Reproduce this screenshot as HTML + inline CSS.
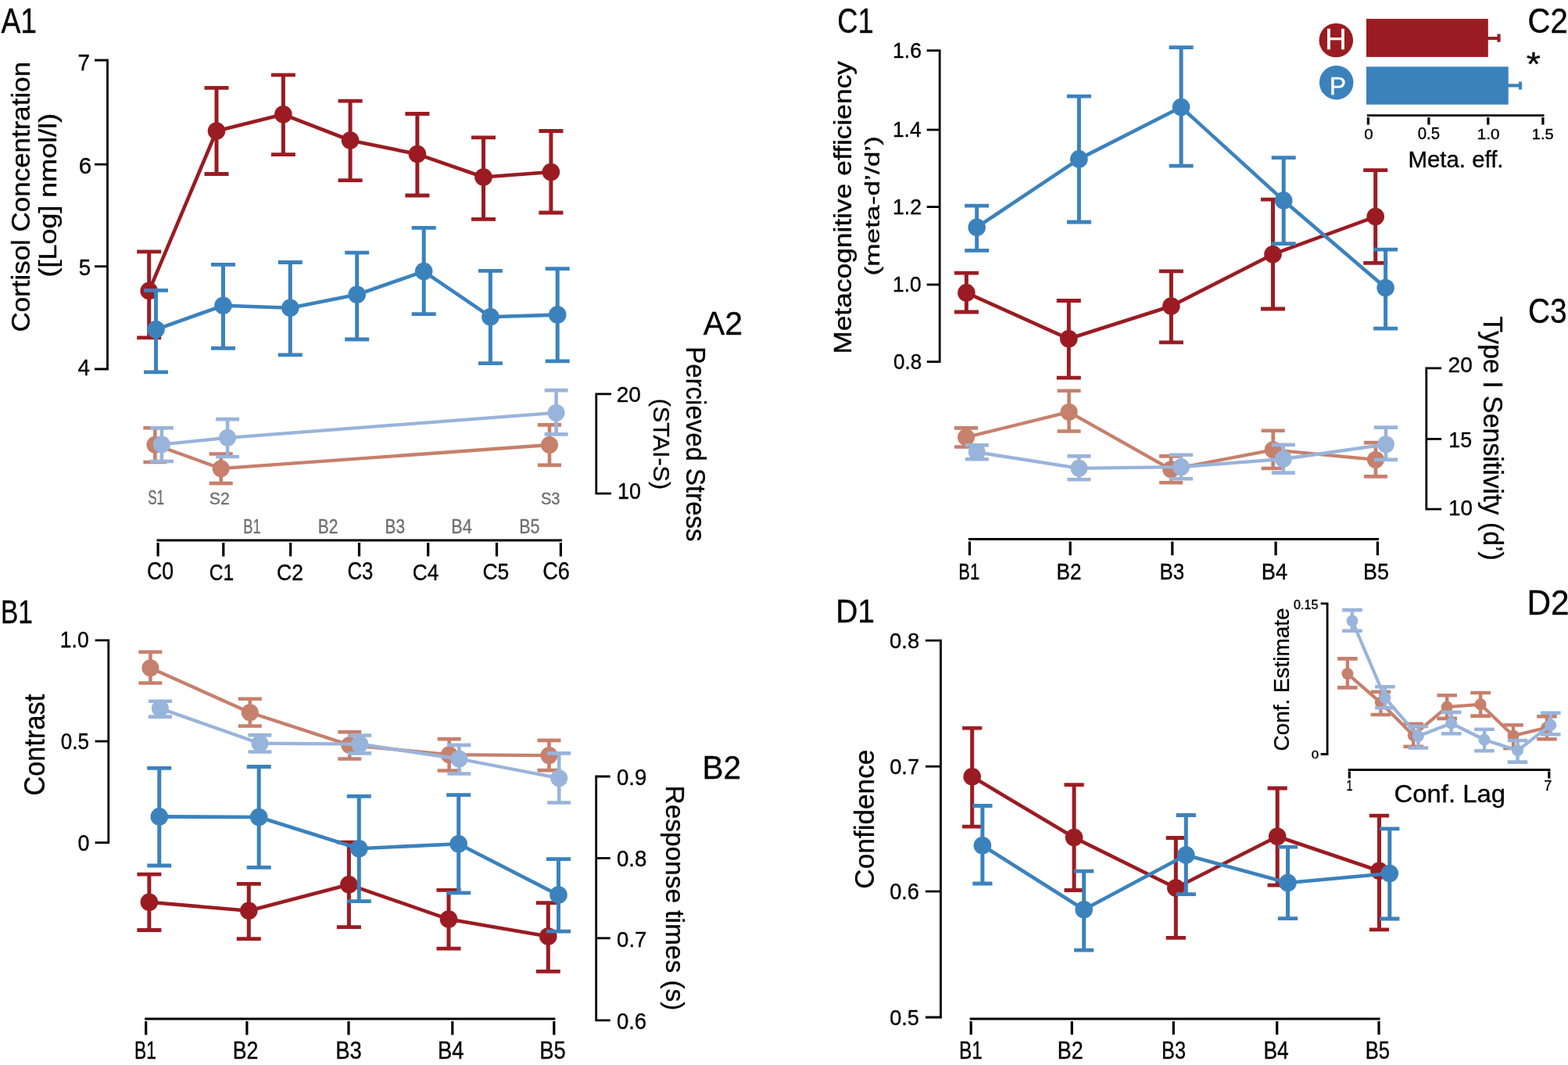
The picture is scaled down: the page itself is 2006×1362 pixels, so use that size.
<!DOCTYPE html>
<html><head><meta charset="utf-8"><title>Figure</title>
<style>html,body{margin:0;padding:0;background:#fff;}svg{display:block;}</style></head><body>
<svg width="2006" height="1362" viewBox="0 0 2006 1362" font-family='"Liberation Sans", Arial, sans-serif'>
<rect width="2006" height="1362" fill="#fff"/>
<g fill="none" stroke="#000" stroke-width="2.8" stroke-linejoin="miter" stroke-linecap="butt">
<path d="M121,77 H137.5 V472 H121"/>
<path d="M121,210.2 H137.5"/>
<path d="M121,340.7 H137.5"/>
<path d="M782,503.9 H762.8 V631.2 H782"/>
<path d="M121.6,818.8 H138.8 V1077.6 H121.6"/>
<path d="M121.6,948 H138.8"/>
<path d="M780.7,993 H762.7 V1304.8 H780.7"/>
<path d="M762.7,1097.5 H780.7"/>
<path d="M762.7,1199.8 H780.7"/>
<path d="M1185.7,64.7 H1202.2 V462.7 H1185.7"/>
<path d="M1185.7,166 H1202.2"/>
<path d="M1185.7,264.6 H1202.2"/>
<path d="M1185.7,364 H1202.2"/>
<path d="M1844.1,470.8 H1824.8 V651.2 H1844.1"/>
<path d="M1824.8,561.4 H1844.1"/>
<path d="M1184,819.1 H1203.5 V1301 H1184"/>
<path d="M1184,980.2 H1203.5"/>
<path d="M1184,1140 H1203.5"/>
<path d="M1689.7,771.9 H1698.1 V964.5 H1689.7"/>
<path d="M200.50,691 H719.00"/>
<path d="M185.10,1303 H710.40"/>
<path d="M1238.90,689.5 H1764.00"/>
<path d="M1748.80,147.7 H1975.50"/>
<path d="M1240.60,1303 H1765.60"/>
<path d="M1724.70,984.5 H1983.40"/>
</g>
<g fill="none" stroke="#000" stroke-width="3.2">
<path d="M202.1,694.00 V711.5 M285.8,694.00 V711.5 M371.7,694.00 V711.5 M459.5,694.00 V711.5 M547.7,694.00 V711.5 M635.5,694.00 V711.5 M717.4,694.00 V711.5"/>
<path d="M186.7,1306.00 V1323.6 M315.9,1306.00 V1323.6 M446,1306.00 V1323.6 M578.8,1306.00 V1323.6 M708.8,1306.00 V1323.6"/>
<path d="M1240.5,692.50 V710.2 M1369.2,692.50 V710.2 M1499.8,692.50 V710.2 M1632.1,692.50 V710.2 M1762.4,692.50 V710.2"/>
<path d="M1750.4,149.90 V159.5 M1827.9,149.90 V159.5 M1903.8,149.90 V159.5 M1973.9,149.90 V159.5"/>
<path d="M1242.2,1306.00 V1323.3 M1371.3,1306.00 V1323.3 M1501.3,1306.00 V1323.3 M1633.7,1306.00 V1323.3 M1764,1306.00 V1323.3"/>
<path d="M1726.3,986.60 V995.5 M1981.8,986.60 V995.5"/>
</g>
<g>
<rect x="1748" y="24.1" width="155.8" height="48.8" fill="#9a1c22"/>
<path d="M1903,49 H1917.5 M1917.5,43.6 V53.8" stroke="#9a1c22" stroke-width="4.2" fill="none"/>
<rect x="1748" y="85.3" width="181.7" height="48.4" fill="#3b82bd"/>
<path d="M1929,109.4 H1945 M1945,104.5 V114.5" stroke="#3b82bd" stroke-width="4.2" fill="none"/>
<circle cx="1709.3" cy="51.5" r="21.8" fill="#9a1c22"/>
<circle cx="1709.7" cy="105.6" r="21.8" fill="#3b82bd"/>
</g>
<path d="M190.7,372.1 L277,167.5 L362.4,146.3 L448.1,179.5 L533.9,197.1 L618.5,226.5 L704.9,220" fill="none" stroke="#9a1c22" stroke-width="4.6" stroke-linejoin="round"/>
<path d="M190.7,321.9 V431.8 M277,112.4 V222.5 M362.4,95.9 V197.7 M448.1,129.1 V230.6 M533.9,145.5 V250 M618.5,175.8 V280.3 M704.9,167.5 V272" stroke="#9a1c22" stroke-width="5.0"/>
<path d="M175.2,321.9 H206.2 M175.2,431.8 H206.2 M261.5,112.4 H292.5 M261.5,222.5 H292.5 M346.9,95.9 H377.9 M346.9,197.7 H377.9 M432.6,129.1 H463.6 M432.6,230.6 H463.6 M518.4,145.5 H549.4 M518.4,250 H549.4 M603,175.8 H634 M603,280.3 H634 M689.4,167.5 H720.4 M689.4,272 H720.4" stroke="#9a1c22" stroke-width="4.8"/>
<circle cx="190.7" cy="372.1" r="11.3" fill="#9a1c22"/>
<circle cx="277" cy="167.5" r="11.3" fill="#9a1c22"/>
<circle cx="362.4" cy="146.3" r="11.3" fill="#9a1c22"/>
<circle cx="448.1" cy="179.5" r="11.3" fill="#9a1c22"/>
<circle cx="533.9" cy="197.1" r="11.3" fill="#9a1c22"/>
<circle cx="618.5" cy="226.5" r="11.3" fill="#9a1c22"/>
<circle cx="704.9" cy="220" r="11.3" fill="#9a1c22"/>
<path d="M199.5,421.3 L285.5,390.8 L371.3,393.8 L456.7,376.8 L542.2,347.1 L627.4,405.2 L713.2,402.6" fill="none" stroke="#3b82bd" stroke-width="4.6" stroke-linejoin="round"/>
<path d="M199.5,371.3 V475.8 M285.5,338.3 V445.4 M371.3,335.5 V453.8 M456.7,323.2 V434 M542.2,291.3 V401.7 M627.4,346.4 V464.6 M713.2,343.6 V461.9" stroke="#3b82bd" stroke-width="5.0"/>
<path d="M184,371.3 H215 M184,475.8 H215 M270,338.3 H301 M270,445.4 H301 M355.8,335.5 H386.8 M355.8,453.8 H386.8 M441.2,323.2 H472.2 M441.2,434 H472.2 M526.7,291.3 H557.7 M526.7,401.7 H557.7 M611.9,346.4 H642.9 M611.9,464.6 H642.9 M697.7,343.6 H728.7 M697.7,461.9 H728.7" stroke="#3b82bd" stroke-width="4.8"/>
<circle cx="199.5" cy="421.3" r="11.3" fill="#3b82bd"/>
<circle cx="285.5" cy="390.8" r="11.3" fill="#3b82bd"/>
<circle cx="371.3" cy="393.8" r="11.3" fill="#3b82bd"/>
<circle cx="456.7" cy="376.8" r="11.3" fill="#3b82bd"/>
<circle cx="542.2" cy="347.1" r="11.3" fill="#3b82bd"/>
<circle cx="627.4" cy="405.2" r="11.3" fill="#3b82bd"/>
<circle cx="713.2" cy="402.6" r="11.3" fill="#3b82bd"/>
<path d="M198.4,568.8 L282.7,599.2 L703,569" fill="none" stroke="#c6806c" stroke-width="4.3" stroke-linejoin="round"/>
<path d="M198.4,547.2 V591 M282.7,580.5 V618.1 M703,543.4 V594.9" stroke="#c6806c" stroke-width="4.6"/>
<path d="M183.4,547.2 H213.4 M183.4,591 H213.4 M267.7,580.5 H297.7 M267.7,618.1 H297.7 M688,543.4 H718 M688,594.9 H718" stroke="#c6806c" stroke-width="4.6"/>
<circle cx="198.4" cy="568.8" r="11.0" fill="#c6806c"/>
<circle cx="282.7" cy="599.2" r="11.0" fill="#c6806c"/>
<circle cx="703" cy="569" r="11.0" fill="#c6806c"/>
<path d="M206.9,568.4 L291.1,559.8 L711.6,527.9" fill="none" stroke="#99b4da" stroke-width="4.3" stroke-linejoin="round"/>
<path d="M206.9,547.2 V590 M291.1,536.1 V584 M711.6,499.1 V555.4" stroke="#99b4da" stroke-width="4.6"/>
<path d="M191.9,547.2 H221.9 M191.9,590 H221.9 M276.1,536.1 H306.1 M276.1,584 H306.1 M696.6,499.1 H726.6 M696.6,555.4 H726.6" stroke="#99b4da" stroke-width="4.6"/>
<circle cx="206.9" cy="568.4" r="11.0" fill="#99b4da"/>
<circle cx="291.1" cy="559.8" r="11.0" fill="#99b4da"/>
<circle cx="711.6" cy="527.9" r="11.0" fill="#99b4da"/>
<path d="M190.9,1153.7 L318.3,1164.8 L446.4,1131.3 L574,1175.6 L701.3,1197.6" fill="none" stroke="#9a1c22" stroke-width="4.6" stroke-linejoin="round"/>
<path d="M190.9,1118.1 V1189.5 M318.3,1130.4 V1200.6 M446.4,1077.2 V1185.6 M574,1138.4 V1213.2 M701.3,1154.6 V1242.3" stroke="#9a1c22" stroke-width="5.0"/>
<path d="M175.4,1118.1 H206.4 M175.4,1189.5 H206.4 M302.8,1130.4 H333.8 M302.8,1200.6 H333.8 M430.9,1077.2 H461.9 M430.9,1185.6 H461.9 M558.5,1138.4 H589.5 M558.5,1213.2 H589.5 M685.8,1154.6 H716.8 M685.8,1242.3 H716.8" stroke="#9a1c22" stroke-width="4.8"/>
<circle cx="190.9" cy="1153.7" r="11.3" fill="#9a1c22"/>
<circle cx="318.3" cy="1164.8" r="11.3" fill="#9a1c22"/>
<circle cx="446.4" cy="1131.3" r="11.3" fill="#9a1c22"/>
<circle cx="574" cy="1175.6" r="11.3" fill="#9a1c22"/>
<circle cx="701.3" cy="1197.6" r="11.3" fill="#9a1c22"/>
<path d="M203.8,1044.4 L331.2,1045 L459.3,1085.2 L586.7,1079.2 L714.5,1144.6" fill="none" stroke="#3b82bd" stroke-width="4.6" stroke-linejoin="round"/>
<path d="M203.8,982.4 V1107 M331.2,980.5 V1109.3 M459.3,1018.4 V1152.6 M586.7,1016.7 V1141.9 M714.5,1098.6 V1191.2" stroke="#3b82bd" stroke-width="5.0"/>
<path d="M188.3,982.4 H219.3 M188.3,1107 H219.3 M315.7,980.5 H346.7 M315.7,1109.3 H346.7 M443.8,1018.4 H474.8 M443.8,1152.6 H474.8 M571.2,1016.7 H602.2 M571.2,1141.9 H602.2 M699,1098.6 H730 M699,1191.2 H730" stroke="#3b82bd" stroke-width="4.8"/>
<circle cx="203.8" cy="1044.4" r="11.3" fill="#3b82bd"/>
<circle cx="331.2" cy="1045" r="11.3" fill="#3b82bd"/>
<circle cx="459.3" cy="1085.2" r="11.3" fill="#3b82bd"/>
<circle cx="586.7" cy="1079.2" r="11.3" fill="#3b82bd"/>
<circle cx="714.5" cy="1144.6" r="11.3" fill="#3b82bd"/>
<path d="M192.4,854.2 L319.8,911.3 L447.3,952.9 L574.7,965.2 L702.5,966.1" fill="none" stroke="#c6806c" stroke-width="4.3" stroke-linejoin="round"/>
<path d="M192.4,833.8 V873.5 M319.8,893.8 V928.5 M447.3,936.1 V970.5 M574.7,945.1 V985.5 M702.5,946.9 V985.1" stroke="#c6806c" stroke-width="4.6"/>
<path d="M177.4,833.8 H207.4 M177.4,873.5 H207.4 M304.8,893.8 H334.8 M304.8,928.5 H334.8 M432.3,936.1 H462.3 M432.3,970.5 H462.3 M559.7,945.1 H589.7 M559.7,985.5 H589.7 M687.5,946.9 H717.5 M687.5,985.1 H717.5" stroke="#c6806c" stroke-width="4.6"/>
<circle cx="192.4" cy="854.2" r="11.0" fill="#c6806c"/>
<circle cx="319.8" cy="911.3" r="11.0" fill="#c6806c"/>
<circle cx="447.3" cy="952.9" r="11.0" fill="#c6806c"/>
<circle cx="574.7" cy="965.2" r="11.0" fill="#c6806c"/>
<circle cx="702.5" cy="966.1" r="11.0" fill="#c6806c"/>
<path d="M204.9,906 L332.5,950.7 L460.2,951.6 L587.4,970.5 L715.2,995.2" fill="none" stroke="#99b4da" stroke-width="4.3" stroke-linejoin="round"/>
<path d="M204.9,896.8 V916.6 M332.5,940.1 V961.5 M460.2,940.5 V963.4 M587.4,952.9 V989.5 M715.2,963.4 V1026.5" stroke="#99b4da" stroke-width="4.6"/>
<path d="M189.9,896.8 H219.9 M189.9,916.6 H219.9 M317.5,940.1 H347.5 M317.5,961.5 H347.5 M445.2,940.5 H475.2 M445.2,963.4 H475.2 M572.4,952.9 H602.4 M572.4,989.5 H602.4 M700.2,963.4 H730.2 M700.2,1026.5 H730.2" stroke="#99b4da" stroke-width="4.6"/>
<circle cx="204.9" cy="906" r="11.0" fill="#99b4da"/>
<circle cx="332.5" cy="950.7" r="11.0" fill="#99b4da"/>
<circle cx="460.2" cy="951.6" r="11.0" fill="#99b4da"/>
<circle cx="587.4" cy="970.5" r="11.0" fill="#99b4da"/>
<circle cx="715.2" cy="995.2" r="11.0" fill="#99b4da"/>
<path d="M1236.4,374.4 L1367.3,433.3 L1498.4,391.5 L1628.5,325.2 L1759.7,277.1" fill="none" stroke="#9a1c22" stroke-width="4.6" stroke-linejoin="round"/>
<path d="M1236.4,349.2 V399 M1367.3,384.5 V483.2 M1498.4,346.9 V437.8 M1628.5,255.2 V395 M1759.7,217.6 V336.3" stroke="#9a1c22" stroke-width="5.0"/>
<path d="M1220.9,349.2 H1251.9 M1220.9,399 H1251.9 M1351.8,384.5 H1382.8 M1351.8,483.2 H1382.8 M1482.9,346.9 H1513.9 M1482.9,437.8 H1513.9 M1613,255.2 H1644 M1613,395 H1644 M1744.2,217.6 H1775.2 M1744.2,336.3 H1775.2" stroke="#9a1c22" stroke-width="4.8"/>
<circle cx="1236.4" cy="374.4" r="11.3" fill="#9a1c22"/>
<circle cx="1367.3" cy="433.3" r="11.3" fill="#9a1c22"/>
<circle cx="1498.4" cy="391.5" r="11.3" fill="#9a1c22"/>
<circle cx="1628.5" cy="325.2" r="11.3" fill="#9a1c22"/>
<circle cx="1759.7" cy="277.1" r="11.3" fill="#9a1c22"/>
<path d="M1249.7,290.7 L1380.4,203.4 L1511.1,137 L1642.2,256.4 L1772.6,368" fill="none" stroke="#3b82bd" stroke-width="4.6" stroke-linejoin="round"/>
<path d="M1249.7,263.2 V320.3 M1380.4,123.2 V284 M1511.1,60.6 V212.2 M1642.2,201.6 V311.6 M1772.6,319.1 V420.2" stroke="#3b82bd" stroke-width="5.0"/>
<path d="M1234.2,263.2 H1265.2 M1234.2,320.3 H1265.2 M1364.9,123.2 H1395.9 M1364.9,284 H1395.9 M1495.6,60.6 H1526.6 M1495.6,212.2 H1526.6 M1626.7,201.6 H1657.7 M1626.7,311.6 H1657.7 M1757.1,319.1 H1788.1 M1757.1,420.2 H1788.1" stroke="#3b82bd" stroke-width="4.8"/>
<circle cx="1249.7" cy="290.7" r="11.3" fill="#3b82bd"/>
<circle cx="1380.4" cy="203.4" r="11.3" fill="#3b82bd"/>
<circle cx="1511.1" cy="137" r="11.3" fill="#3b82bd"/>
<circle cx="1642.2" cy="256.4" r="11.3" fill="#3b82bd"/>
<circle cx="1772.6" cy="368" r="11.3" fill="#3b82bd"/>
<path d="M1236,559.2 L1367.6,526.9 L1498.1,600.3 L1628.7,575.3 L1759.9,587.9" fill="none" stroke="#c6806c" stroke-width="4.3" stroke-linejoin="round"/>
<path d="M1236,547.4 V571.5 M1367.6,499.7 V551.5 M1498.1,583.4 V617.3 M1628.7,550.8 V599 M1759.9,566.1 V609.4" stroke="#c6806c" stroke-width="4.6"/>
<path d="M1221,547.4 H1251 M1221,571.5 H1251 M1352.6,499.7 H1382.6 M1352.6,551.5 H1382.6 M1483.1,583.4 H1513.1 M1483.1,617.3 H1513.1 M1613.7,550.8 H1643.7 M1613.7,599 H1643.7 M1744.9,566.1 H1774.9 M1744.9,609.4 H1774.9" stroke="#c6806c" stroke-width="4.6"/>
<circle cx="1236" cy="559.2" r="11.0" fill="#c6806c"/>
<circle cx="1367.6" cy="526.9" r="11.0" fill="#c6806c"/>
<circle cx="1498.1" cy="600.3" r="11.0" fill="#c6806c"/>
<circle cx="1628.7" cy="575.3" r="11.0" fill="#c6806c"/>
<circle cx="1759.9" cy="587.9" r="11.0" fill="#c6806c"/>
<path d="M1249.8,578.3 L1380.5,598.8 L1511.1,597.2 L1641.8,587 L1773,568.3" fill="none" stroke="#99b4da" stroke-width="4.3" stroke-linejoin="round"/>
<path d="M1249.8,569.4 V587.3 M1380.5,583.4 V613.2 M1511.1,581.8 V612.2 M1641.8,568.9 V604.6 M1773,546.6 V587.9" stroke="#99b4da" stroke-width="4.6"/>
<path d="M1234.8,569.4 H1264.8 M1234.8,587.3 H1264.8 M1365.5,583.4 H1395.5 M1365.5,613.2 H1395.5 M1496.1,581.8 H1526.1 M1496.1,612.2 H1526.1 M1626.8,568.9 H1656.8 M1626.8,604.6 H1656.8 M1758,546.6 H1788 M1758,587.9 H1788" stroke="#99b4da" stroke-width="4.6"/>
<circle cx="1249.8" cy="578.3" r="11.0" fill="#99b4da"/>
<circle cx="1380.5" cy="598.8" r="11.0" fill="#99b4da"/>
<circle cx="1511.1" cy="597.2" r="11.0" fill="#99b4da"/>
<circle cx="1641.8" cy="587" r="11.0" fill="#99b4da"/>
<circle cx="1773" cy="568.3" r="11.0" fill="#99b4da"/>
<path d="M1243.7,993.3 L1374.1,1071.1 L1504.3,1135.5 L1634.2,1069.7 L1764.5,1113.8" fill="none" stroke="#9a1c22" stroke-width="4.6" stroke-linejoin="round"/>
<path d="M1243.7,931.2 V1057.2 M1374.1,1003.7 V1138.5 M1504.3,1071.5 V1199.4 M1634.2,1008 V1132.1 M1764.5,1043.1 V1188.8" stroke="#9a1c22" stroke-width="5.0"/>
<path d="M1231.1,931.2 H1256.3 M1231.1,1057.2 H1256.3 M1361.5,1003.7 H1386.7 M1361.5,1138.5 H1386.7 M1491.7,1071.5 H1516.9 M1491.7,1199.4 H1516.9 M1621.6,1008 H1646.8 M1621.6,1132.1 H1646.8 M1751.9,1043.1 H1777.1 M1751.9,1188.8 H1777.1" stroke="#9a1c22" stroke-width="4.8"/>
<circle cx="1243.7" cy="993.3" r="11.3" fill="#9a1c22"/>
<circle cx="1374.1" cy="1071.1" r="11.3" fill="#9a1c22"/>
<circle cx="1504.3" cy="1135.5" r="11.3" fill="#9a1c22"/>
<circle cx="1634.2" cy="1069.7" r="11.3" fill="#9a1c22"/>
<circle cx="1764.5" cy="1113.8" r="11.3" fill="#9a1c22"/>
<path d="M1256.9,1081.2 L1386.7,1163.3 L1517.3,1093.5 L1647.5,1129 L1777.8,1117" fill="none" stroke="#3b82bd" stroke-width="4.6" stroke-linejoin="round"/>
<path d="M1256.9,1030.5 V1130 M1386.7,1114.1 V1215.2 M1517.3,1042.5 V1143.7 M1647.5,1083.2 V1174.7 M1777.8,1059.8 V1175" stroke="#3b82bd" stroke-width="5.0"/>
<path d="M1244.3,1030.5 H1269.5 M1244.3,1130 H1269.5 M1374.1,1114.1 H1399.3 M1374.1,1215.2 H1399.3 M1504.7,1042.5 H1529.9 M1504.7,1143.7 H1529.9 M1634.9,1083.2 H1660.1 M1634.9,1174.7 H1660.1 M1765.2,1059.8 H1790.4 M1765.2,1175 H1790.4" stroke="#3b82bd" stroke-width="4.8"/>
<circle cx="1256.9" cy="1081.2" r="11.3" fill="#3b82bd"/>
<circle cx="1386.7" cy="1163.3" r="11.3" fill="#3b82bd"/>
<circle cx="1517.3" cy="1093.5" r="11.3" fill="#3b82bd"/>
<circle cx="1647.5" cy="1129" r="11.3" fill="#3b82bd"/>
<circle cx="1777.8" cy="1117" r="11.3" fill="#3b82bd"/>
<path d="M1723.9,861.6 L1766.4,898.6 L1808.2,940.4 L1851.2,904.1 L1894.1,900.8 L1936,940.9 L1978.9,930.5" fill="none" stroke="#c6806c" stroke-width="4.2" stroke-linejoin="round"/>
<path d="M1723.9,842.4 V879.4 M1766.4,884.7 V914 M1808.2,925.7 V954.8 M1851.2,889.3 V918.9 M1894.1,886 V915.6 M1936,927.2 V957 M1978.9,916.2 V945.3" stroke="#c6806c" stroke-width="4.4"/>
<path d="M1711.1,842.4 H1736.7 M1711.1,879.4 H1736.7 M1753.6,884.7 H1779.2 M1753.6,914 H1779.2 M1795.4,925.7 H1821 M1795.4,954.8 H1821 M1838.4,889.3 H1864 M1838.4,918.9 H1864 M1881.3,886 H1906.9 M1881.3,915.6 H1906.9 M1923.2,927.2 H1948.8 M1923.2,957 H1948.8 M1966.1,916.2 H1991.7 M1966.1,945.3 H1991.7" stroke="#c6806c" stroke-width="4.6"/>
<circle cx="1723.9" cy="861.6" r="7.5" fill="#c6806c"/>
<circle cx="1766.4" cy="898.6" r="7.5" fill="#c6806c"/>
<circle cx="1808.2" cy="940.4" r="7.5" fill="#c6806c"/>
<circle cx="1851.2" cy="904.1" r="7.5" fill="#c6806c"/>
<circle cx="1894.1" cy="900.8" r="7.5" fill="#c6806c"/>
<circle cx="1936" cy="940.9" r="7.5" fill="#c6806c"/>
<circle cx="1978.9" cy="930.5" r="7.5" fill="#c6806c"/>
<path d="M1730,794 L1771.9,892.4 L1814.4,941.5 L1856.7,925 L1899,946 L1941.5,959.8 L1983.8,927.2" fill="none" stroke="#99b4da" stroke-width="4.2" stroke-linejoin="round"/>
<path d="M1730,780.1 V806.7 M1771.9,878.3 V905.2 M1814.4,929 V956.5 M1856.7,910.9 V938.2 M1899,932.7 V960.3 M1941.5,947 V974.6 M1983.8,911.8 V939.3" stroke="#99b4da" stroke-width="4.4"/>
<path d="M1717.2,780.1 H1742.8 M1717.2,806.7 H1742.8 M1759.1,878.3 H1784.7 M1759.1,905.2 H1784.7 M1801.6,929 H1827.2 M1801.6,956.5 H1827.2 M1843.9,910.9 H1869.5 M1843.9,938.2 H1869.5 M1886.2,932.7 H1911.8 M1886.2,960.3 H1911.8 M1928.7,947 H1954.3 M1928.7,974.6 H1954.3 M1971,911.8 H1996.6 M1971,939.3 H1996.6" stroke="#99b4da" stroke-width="4.6"/>
<circle cx="1730" cy="794" r="7.5" fill="#99b4da"/>
<circle cx="1771.9" cy="892.4" r="7.5" fill="#99b4da"/>
<circle cx="1814.4" cy="941.5" r="7.5" fill="#99b4da"/>
<circle cx="1856.7" cy="925" r="7.5" fill="#99b4da"/>
<circle cx="1899" cy="946" r="7.5" fill="#99b4da"/>
<circle cx="1941.5" cy="959.8" r="7.5" fill="#99b4da"/>
<circle cx="1983.8" cy="927.2" r="7.5" fill="#99b4da"/>
<text x="1.42" y="42.32" font-size="44.29" fill="#000" stroke="#000" stroke-width="0.35" textLength="45.69" lengthAdjust="spacingAndGlyphs">A1</text>
<text x="899.84" y="427.83" font-size="42.52" fill="#000" stroke="#000" stroke-width="0.35" textLength="50.25" lengthAdjust="spacingAndGlyphs">A2</text>
<text x="0.97" y="797.15" font-size="42.02" fill="#000" stroke="#000" stroke-width="0.35" textLength="41.01" lengthAdjust="spacingAndGlyphs">B1</text>
<text x="898.52" y="995.67" font-size="42.60" fill="#000" stroke="#000" stroke-width="0.35" textLength="49.55" lengthAdjust="spacingAndGlyphs">B2</text>
<text x="1071.14" y="42.04" font-size="43.81" fill="#000" stroke="#000" stroke-width="0.35" textLength="46.54" lengthAdjust="spacingAndGlyphs">C1</text>
<text x="1954.41" y="42.06" font-size="43.98" fill="#000" stroke="#000" stroke-width="0.35" textLength="51.37" lengthAdjust="spacingAndGlyphs">C2</text>
<text x="1955.01" y="413.02" font-size="44.25" fill="#000" stroke="#000" stroke-width="0.35" textLength="49.77" lengthAdjust="spacingAndGlyphs">C3</text>
<text x="1069.15" y="796.48" font-size="42.31" fill="#000" stroke="#000" stroke-width="0.35" textLength="49.83" lengthAdjust="spacingAndGlyphs">D1</text>
<text x="1953.44" y="786.05" font-size="43.44" fill="#000" stroke="#000" stroke-width="0.35" textLength="54.16" lengthAdjust="spacingAndGlyphs">D2</text>
<text x="187.90" y="741.41" font-size="31.03" fill="#000" stroke="#000" stroke-width="0.35" textLength="34.10" lengthAdjust="spacingAndGlyphs">C0</text>
<text x="267.65" y="742.08" font-size="29.90" fill="#000" stroke="#000" stroke-width="0.35" textLength="31.41" lengthAdjust="spacingAndGlyphs">C1</text>
<text x="354.01" y="742.08" font-size="30.31" fill="#000" stroke="#000" stroke-width="0.35" textLength="33.93" lengthAdjust="spacingAndGlyphs">C2</text>
<text x="444.45" y="741.29" font-size="30.63" fill="#000" stroke="#000" stroke-width="0.35" textLength="33.00" lengthAdjust="spacingAndGlyphs">C3</text>
<text x="527.80" y="742.08" font-size="29.90" fill="#000" stroke="#000" stroke-width="0.35" textLength="33.61" lengthAdjust="spacingAndGlyphs">C4</text>
<text x="617.47" y="741.35" font-size="30.32" fill="#000" stroke="#000" stroke-width="0.35" textLength="33.81" lengthAdjust="spacingAndGlyphs">C5</text>
<text x="694.17" y="741.27" font-size="30.63" fill="#000" stroke="#000" stroke-width="0.35" textLength="34.67" lengthAdjust="spacingAndGlyphs">C6</text>
<text x="311.27" y="682.15" font-size="25.46" fill="#6f6f6f" stroke="#6f6f6f" stroke-width="0.35" textLength="22.55" lengthAdjust="spacingAndGlyphs">B1</text>
<text x="406.76" y="682.15" font-size="25.46" fill="#6f6f6f" stroke="#6f6f6f" stroke-width="0.35" textLength="25.66" lengthAdjust="spacingAndGlyphs">B2</text>
<text x="492.51" y="682.15" font-size="25.46" fill="#6f6f6f" stroke="#6f6f6f" stroke-width="0.35" textLength="25.47" lengthAdjust="spacingAndGlyphs">B3</text>
<text x="577.19" y="682.15" font-size="25.46" fill="#6f6f6f" stroke="#6f6f6f" stroke-width="0.35" textLength="26.65" lengthAdjust="spacingAndGlyphs">B4</text>
<text x="664.23" y="682.15" font-size="25.46" fill="#6f6f6f" stroke="#6f6f6f" stroke-width="0.35" textLength="26.36" lengthAdjust="spacingAndGlyphs">B5</text>
<text x="189.26" y="645.25" font-size="25.46" fill="#6f6f6f" stroke="#6f6f6f" stroke-width="0.35" textLength="20.82" lengthAdjust="spacingAndGlyphs">S1</text>
<text x="267.77" y="645.32" font-size="22.75" fill="#6f6f6f" stroke="#6f6f6f" stroke-width="0.35" textLength="26.10" lengthAdjust="spacingAndGlyphs">S2</text>
<text x="691.88" y="645.45" font-size="22.89" fill="#6f6f6f" stroke="#6f6f6f" stroke-width="0.35" textLength="24.74" lengthAdjust="spacingAndGlyphs">S3</text>
<text x="99.56" y="89.77" font-size="28.57" fill="#000" stroke="#000" stroke-width="0.35" textLength="15.45" lengthAdjust="spacingAndGlyphs">7</text>
<text x="100.79" y="222.03" font-size="28.76" fill="#000" stroke="#000" stroke-width="0.35" textLength="16.43" lengthAdjust="spacingAndGlyphs">6</text>
<text x="100.63" y="352.16" font-size="28.64" fill="#000" stroke="#000" stroke-width="0.35" textLength="15.36" lengthAdjust="spacingAndGlyphs">5</text>
<text x="99.47" y="479.65" font-size="28.61" fill="#000" stroke="#000" stroke-width="0.35" textLength="15.55" lengthAdjust="spacingAndGlyphs">4</text>
<text x="788.70" y="513.57" font-size="28.54" fill="#000" stroke="#000" stroke-width="0.35" textLength="31.28" lengthAdjust="spacingAndGlyphs">20</text>
<text x="790.10" y="638.43" font-size="28.77" fill="#000" stroke="#000" stroke-width="0.35" textLength="29.90" lengthAdjust="spacingAndGlyphs">10</text>
<text x="76.86" y="828.24" font-size="29.32" fill="#000" stroke="#000" stroke-width="0.35" textLength="36.88" lengthAdjust="spacingAndGlyphs">1.0</text>
<text x="77.78" y="958.07" font-size="29.32" fill="#000" stroke="#000" stroke-width="0.35" textLength="36.23" lengthAdjust="spacingAndGlyphs">0.5</text>
<text x="99.40" y="1087.58" font-size="28.70" fill="#000" stroke="#000" stroke-width="0.35" textLength="15.02" lengthAdjust="spacingAndGlyphs">0</text>
<text x="788.92" y="1004.14" font-size="28.94" fill="#000" stroke="#000" stroke-width="0.35" textLength="38.44" lengthAdjust="spacingAndGlyphs">0.9</text>
<text x="788.90" y="1108.07" font-size="28.77" fill="#000" stroke="#000" stroke-width="0.35" textLength="38.44" lengthAdjust="spacingAndGlyphs">0.8</text>
<text x="789.07" y="1210.94" font-size="28.41" fill="#000" stroke="#000" stroke-width="0.35" textLength="38.32" lengthAdjust="spacingAndGlyphs">0.7</text>
<text x="788.96" y="1315.93" font-size="28.92" fill="#000" stroke="#000" stroke-width="0.35" textLength="38.21" lengthAdjust="spacingAndGlyphs">0.6</text>
<text x="172.01" y="1353.67" font-size="30.57" fill="#000" stroke="#000" stroke-width="0.35" textLength="27.83" lengthAdjust="spacingAndGlyphs">B1</text>
<text x="297.71" y="1353.67" font-size="30.57" fill="#000" stroke="#000" stroke-width="0.35" textLength="32.75" lengthAdjust="spacingAndGlyphs">B2</text>
<text x="429.28" y="1353.67" font-size="30.57" fill="#000" stroke="#000" stroke-width="0.35" textLength="33.64" lengthAdjust="spacingAndGlyphs">B3</text>
<text x="559.93" y="1353.67" font-size="30.57" fill="#000" stroke="#000" stroke-width="0.35" textLength="33.61" lengthAdjust="spacingAndGlyphs">B4</text>
<text x="690.31" y="1353.67" font-size="30.57" fill="#000" stroke="#000" stroke-width="0.35" textLength="33.57" lengthAdjust="spacingAndGlyphs">B5</text>
<text x="1142.02" y="73.58" font-size="28.04" fill="#000" stroke="#000" stroke-width="0.35" textLength="37.00" lengthAdjust="spacingAndGlyphs">1.6</text>
<text x="1141.88" y="175.37" font-size="28.04" fill="#000" stroke="#000" stroke-width="0.35" textLength="36.75" lengthAdjust="spacingAndGlyphs">1.4</text>
<text x="1141.91" y="273.94" font-size="28.04" fill="#000" stroke="#000" stroke-width="0.35" textLength="37.31" lengthAdjust="spacingAndGlyphs">1.2</text>
<text x="1142.04" y="373.37" font-size="28.04" fill="#000" stroke="#000" stroke-width="0.35" textLength="36.67" lengthAdjust="spacingAndGlyphs">1.0</text>
<text x="1142.92" y="471.56" font-size="28.49" fill="#000" stroke="#000" stroke-width="0.35" textLength="36.22" lengthAdjust="spacingAndGlyphs">0.8</text>
<text x="1226.34" y="740.83" font-size="30.05" fill="#000" stroke="#000" stroke-width="0.35" textLength="26.84" lengthAdjust="spacingAndGlyphs">B1</text>
<text x="1351.58" y="740.83" font-size="30.05" fill="#000" stroke="#000" stroke-width="0.35" textLength="32.11" lengthAdjust="spacingAndGlyphs">B2</text>
<text x="1483.50" y="740.83" font-size="30.05" fill="#000" stroke="#000" stroke-width="0.35" textLength="31.66" lengthAdjust="spacingAndGlyphs">B3</text>
<text x="1613.77" y="740.83" font-size="30.05" fill="#000" stroke="#000" stroke-width="0.35" textLength="33.34" lengthAdjust="spacingAndGlyphs">B4</text>
<text x="1744.00" y="740.83" font-size="30.05" fill="#000" stroke="#000" stroke-width="0.35" textLength="32.84" lengthAdjust="spacingAndGlyphs">B5</text>
<text x="1852.60" y="475.70" font-size="28.51" fill="#000" stroke="#000" stroke-width="0.35" textLength="31.25" lengthAdjust="spacingAndGlyphs">20</text>
<text x="1853.28" y="571.58" font-size="27.81" fill="#000" stroke="#000" stroke-width="0.35" textLength="29.80" lengthAdjust="spacingAndGlyphs">15</text>
<text x="1853.10" y="659.36" font-size="27.81" fill="#000" stroke="#000" stroke-width="0.35" textLength="30.93" lengthAdjust="spacingAndGlyphs">10</text>
<text x="1745.18" y="177.87" font-size="19.28" fill="#000" stroke="#000" stroke-width="0.35" textLength="11.42" lengthAdjust="spacingAndGlyphs">0</text>
<text x="1813.81" y="178.19" font-size="21.39" fill="#000" stroke="#000" stroke-width="0.35" textLength="28.26" lengthAdjust="spacingAndGlyphs">0.5</text>
<text x="1889.72" y="178.09" font-size="18.62" fill="#000" stroke="#000" stroke-width="0.35" textLength="28.91" lengthAdjust="spacingAndGlyphs">1.0</text>
<text x="1959.80" y="178.09" font-size="18.60" fill="#000" stroke="#000" stroke-width="0.35" textLength="27.86" lengthAdjust="spacingAndGlyphs">1.5</text>
<text x="1801.40" y="214.14" font-size="28.95" fill="#000" stroke="#000" stroke-width="0.35" textLength="122.10" lengthAdjust="spacingAndGlyphs">Meta. eff.</text>
<text x="1952.89" y="96.12" font-size="41.78" fill="#000" stroke="#000" stroke-width="0.35" textLength="18.17" lengthAdjust="spacingAndGlyphs">*</text>
<text x="1694.92" y="62.61" font-size="36.16" fill="#fff" stroke="#fff" stroke-width="0.35" textLength="27.98" lengthAdjust="spacingAndGlyphs">H</text>
<text x="1700.64" y="120.65" font-size="31.98" fill="#fff" stroke="#fff" stroke-width="0.35" textLength="21.33" lengthAdjust="spacingAndGlyphs">P</text>
<text x="1138.04" y="828.82" font-size="28.38" fill="#000" stroke="#000" stroke-width="0.35" textLength="38.20" lengthAdjust="spacingAndGlyphs">0.8</text>
<text x="1138.13" y="990.29" font-size="28.21" fill="#000" stroke="#000" stroke-width="0.35" textLength="38.10" lengthAdjust="spacingAndGlyphs">0.7</text>
<text x="1138.14" y="1149.92" font-size="29.18" fill="#000" stroke="#000" stroke-width="0.35" textLength="37.91" lengthAdjust="spacingAndGlyphs">0.6</text>
<text x="1138.14" y="1310.84" font-size="28.53" fill="#000" stroke="#000" stroke-width="0.35" textLength="37.77" lengthAdjust="spacingAndGlyphs">0.5</text>
<text x="1226.90" y="1353.78" font-size="30.86" fill="#000" stroke="#000" stroke-width="0.35" textLength="30.05" lengthAdjust="spacingAndGlyphs">B1</text>
<text x="1352.78" y="1353.78" font-size="30.86" fill="#000" stroke="#000" stroke-width="0.35" textLength="33.04" lengthAdjust="spacingAndGlyphs">B2</text>
<text x="1486.11" y="1353.78" font-size="30.86" fill="#000" stroke="#000" stroke-width="0.35" textLength="31.01" lengthAdjust="spacingAndGlyphs">B3</text>
<text x="1616.39" y="1353.78" font-size="30.86" fill="#000" stroke="#000" stroke-width="0.35" textLength="32.23" lengthAdjust="spacingAndGlyphs">B4</text>
<text x="1746.73" y="1353.78" font-size="30.86" fill="#000" stroke="#000" stroke-width="0.35" textLength="31.34" lengthAdjust="spacingAndGlyphs">B5</text>
<text x="1655.10" y="779.39" font-size="15.66" fill="#000" stroke="#000" stroke-width="0.35" textLength="31.44" lengthAdjust="spacingAndGlyphs">0.15</text>
<text x="1677.83" y="969.68" font-size="13.82" fill="#000" stroke="#000" stroke-width="0.35" textLength="9.43" lengthAdjust="spacingAndGlyphs">0</text>
<text x="1722.56" y="1011.32" font-size="17.94" fill="#000" stroke="#000" stroke-width="0.35" textLength="8.03" lengthAdjust="spacingAndGlyphs">1</text>
<text x="1975.19" y="1011.41" font-size="17.75" fill="#000" stroke="#000" stroke-width="0.35" textLength="9.96" lengthAdjust="spacingAndGlyphs">7</text>
<text x="1783.51" y="1026.08" font-size="32.14" fill="#000" stroke="#000" stroke-width="0.35" textLength="142.46" lengthAdjust="spacingAndGlyphs">Conf. Lag</text>
<text transform="translate(37.54,424.60) rotate(-90)" x="0" y="0" font-size="33.98" fill="#000" stroke="#000" stroke-width="0.35" textLength="345.74" lengthAdjust="spacingAndGlyphs">Cortisol Concentration</text>
<text transform="translate(72.42,354.46) rotate(-90)" x="0" y="0" font-size="30.60" fill="#000" stroke="#000" stroke-width="0.35" textLength="209.58" lengthAdjust="spacingAndGlyphs">([Log] nmol/l)</text>
<text transform="translate(56.68,1017.61) rotate(-90)" x="0" y="0" font-size="36.50" fill="#000" stroke="#000" stroke-width="0.35" textLength="129.89" lengthAdjust="spacingAndGlyphs">Contrast</text>
<text transform="translate(1089.30,452.76) rotate(-90)" x="0" y="0" font-size="30.92" fill="#000" stroke="#000" stroke-width="0.35" textLength="374.78" lengthAdjust="spacingAndGlyphs">Metacognitive efficiency</text>
<text transform="translate(1125.31,352.58) rotate(-90)" x="0" y="0" font-size="26.40" fill="#000" stroke="#000" stroke-width="0.35" textLength="178.56" lengthAdjust="spacingAndGlyphs">(meta-d’/d’)</text>
<text transform="translate(1118.47,1136.67) rotate(-90)" x="0" y="0" font-size="35.06" fill="#000" stroke="#000" stroke-width="0.35" textLength="178.02" lengthAdjust="spacingAndGlyphs">Confidence</text>
<text transform="translate(1649.32,960.38) rotate(-90)" x="0" y="0" font-size="28.08" fill="#000" stroke="#000" stroke-width="0.35" textLength="182.87" lengthAdjust="spacingAndGlyphs">Conf. Estimate</text>
<text transform="translate(878.20,443.31) rotate(90)" x="0" y="0" font-size="34.33" fill="#000" stroke="#000" stroke-width="0.35" textLength="249.18" lengthAdjust="spacingAndGlyphs">Percieved Stress</text>
<text transform="translate(836.33,509.71) rotate(90)" x="0" y="0" font-size="29.75" fill="#000" stroke="#000" stroke-width="0.35" textLength="116.43" lengthAdjust="spacingAndGlyphs">(STAI-S)</text>
<text transform="translate(852.15,1004.53) rotate(90)" x="0" y="0" font-size="32.39" fill="#000" stroke="#000" stroke-width="0.35" textLength="287.82" lengthAdjust="spacingAndGlyphs">Response times (s)</text>
<text transform="translate(1898.39,404.43) rotate(90)" x="0" y="0" font-size="34.39" fill="#000" stroke="#000" stroke-width="0.35" textLength="312.38" lengthAdjust="spacingAndGlyphs">Type I Sensitivity (d’)</text>
</svg></body></html>
